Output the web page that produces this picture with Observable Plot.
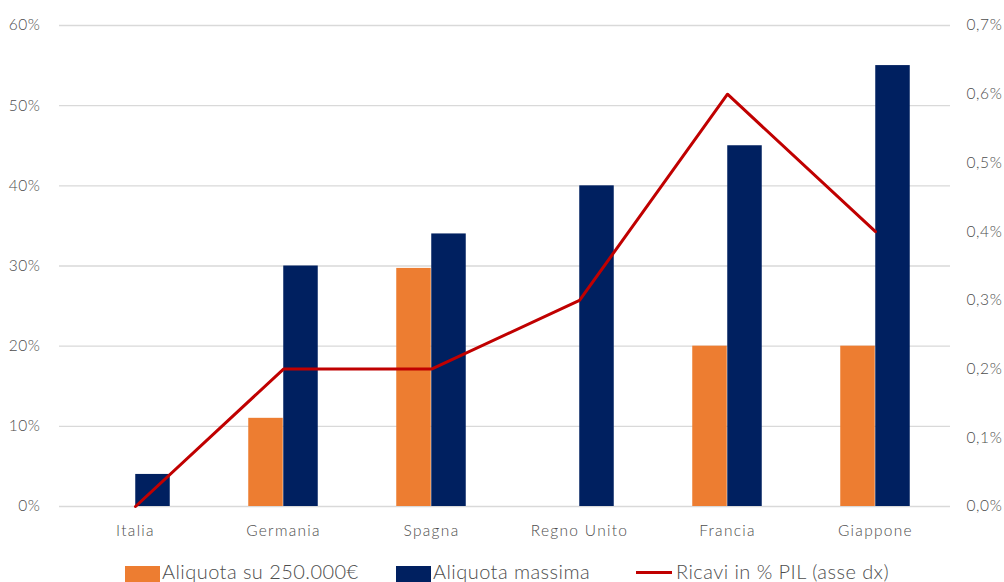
<!DOCTYPE html>
<html>
<head>
<meta charset="utf-8">
<script src="https://cdn.jsdelivr.net/npm/d3@7"></script>
<script src="https://cdn.jsdelivr.net/npm/@observablehq/plot@0.6"></script>
<style>
  html, body { margin: 0; padding: 0; background: #fff; }
  body { width: 1004px; height: 582px; overflow: hidden; font-family: Lato, "Noto Sans", sans-serif; font-weight: 300; }
  #legend { position: absolute; left: 0; top: 559px; width: 1004px; height: 24px; font-size: 20px; letter-spacing: 0.45px; color: #4d4d4d; }
  .item { position: absolute; top: 0; height: 24px; line-height: 24px; white-space: nowrap; }
  .sw { position: absolute; top: 7px; width: 35px; height: 17px; }
  .ln { position: absolute; top: 12px; width: 36px; height: 3px; background: #c00000; }
  svg text { font-weight: 300; }
  .xax text { letter-spacing: 1.3px; }
</style>
</head>
<body>
<div id="chart"></div>
<div id="legend">
  <div class="item" style="left:125px"><span class="sw" style="left:0;background:#ed7d31"></span><span style="position:absolute;left:37px">Aliquota su 250.000€</span></div>
  <div class="item" style="left:396px"><span class="sw" style="left:0;background:#002060"></span><span style="position:absolute;left:37px">Aliquota massima</span></div>
  <div class="item" style="left:636px"><span class="ln" style="left:0"></span><span style="position:absolute;left:40px">Ricavi in % PIL (asse dx)</span></div>
</div>
<script>
const categories = ["Italia", "Germania", "Spagna", "Regno Unito", "Francia", "Giappone"];
const aliquota250k = [null, 11, 29.7, null, 20, 20];
const aliquotaMassima = [4, 30, 34, 40, 45, 55];
const ricaviPIL = [0, 0.2, 0.2, 0.3, 0.6, 0.4];
const leftTicks = [0, 10, 20, 30, 40, 50, 60];
const rightTicks = [0, 0.1, 0.2, 0.3, 0.4, 0.5, 0.6, 0.7];

const k = 60 / 0.7; // right axis → left axis
const width = 1004, height = 559;
const mL = 59, mR = 54;
const bw = (width - mL - mR) / categories.length;
const barW = 35;
const inner = bw / 2 - barW;

const d250 = categories.map((c, i) => ({c, v: aliquota250k[i]})).filter(d => d.v != null);
const dMax = categories.map((c, i) => ({c, v: aliquotaMassima[i]}));
const dLine = categories.map((c, i) => ({c, v: ricaviPIL[i] * k}));

const chart = Plot.plot({
  width, height,
  marginLeft: mL, marginRight: mR, marginTop: 25, marginBottom: 53,
  style: {fontFamily: "Lato, 'Noto Sans', sans-serif", fontSize: "15px", color: "#4d4d4d", background: "#fff", letterSpacing: "0.6px"},
  x: {type: "band", domain: categories, padding: 0},
  y: {domain: [0, 60]},
  marks: [
    Plot.gridY(leftTicks, {stroke: "#d9d9d9", strokeOpacity: 1, strokeWidth: 1.3}),
    Plot.barY(d250, {x: "c", y: "v", fill: "#ed7d31", insetLeft: inner, insetRight: bw / 2}),
    Plot.barY(dMax, {x: "c", y: "v", fill: "#002060", insetLeft: bw / 2, insetRight: inner}),
    Plot.line(dLine, {x: "c", y: "v", stroke: "#c00000", strokeWidth: 3}),
    Plot.axisY(leftTicks, {anchor: "left", tickSize: 0, tickPadding: 19, tickFormat: d => d + "%", fontSize: 15.5, fill: "#4d4d4d", label: null}),
    Plot.axisY(rightTicks.map(v => v * k), {anchor: "right", tickSize: 0, tickPadding: 16, tickFormat: d => (d / k).toFixed(1).replace(".", ",") + "%", fontSize: 15.5, fill: "#4d4d4d", label: null}),
    Plot.axisX({tickSize: 0, tickPadding: 18, fontSize: 15.5, fill: "#4d4d4d", label: null, className: "xax"})
  ]
});
document.getElementById("chart").appendChild(chart);
</script>
</body>
</html>
